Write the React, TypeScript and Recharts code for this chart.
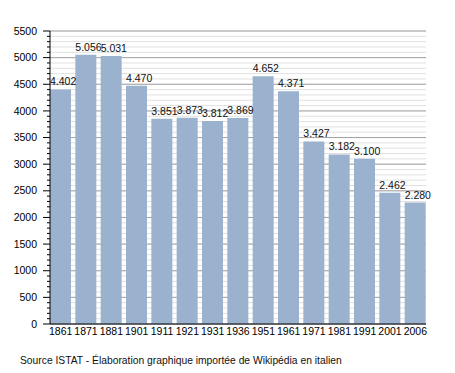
import { BarChart, Bar, XAxis, YAxis, CartesianGrid, LabelList } from "recharts";

const years = ["1861", "1871", "1881", "1901", "1911", "1921", "1931", "1936", "1951", "1961", "1971", "1981", "1991", "2001", "2006"];
const population = [4402, 5056, 5031, 4470, 3851, 3873, 3812, 3869, 4652, 4371, 3427, 3182, 3100, 2462, 2280];
const majorTicks = [0, 500, 1000, 1500, 2000, 2500, 3000, 3500, 4000, 4500, 5000, 5500];
// minor grid every 100
const minorTicks = Array.from({ length: 56 }, (_, i) => i * 100);

const data = years.map((year, i) => ({ year, value: population[i] }));

const FONT = "'Liberation Sans', Arial, sans-serif";

// italian thousands separator
const fmt = (v: number) => `${Math.floor(v / 1000)}.${String(v % 1000).padStart(3, "0")}`;

const YTick = (props: any) => {
  const { x, y, payload } = props;
  const major = payload.value % 500 === 0;
  return (
    <g>
      <line x1={x - (major ? 7 : 3)} x2={x} y1={y} y2={y} stroke="#000" strokeWidth={1} />
      {major && (
        <text x={x - 13} y={y} dy="0.35em" textAnchor="end" fontSize={10.5} fontFamily={FONT} fill="#000">
          {payload.value}
        </text>
      )}
    </g>
  );
};

const BarLabel = (props: any) => {
  const { x, y, value } = props;
  return (
    <text x={x} y={y - 4} textAnchor="start" fontSize={10.5} fontFamily={FONT} fill="#111">
      {fmt(value)}
    </text>
  );
};

export default function App() {
  return (
    <div style={{ position: "absolute", left: 0, top: 0, width: 455, height: 373, background: "#fff" }}>
      <BarChart
        width={455}
        height={373}
        data={data}
        margin={{ top: 31, right: 29, left: 0, bottom: 29 }}
        barCategoryGap={2}
      >
        <CartesianGrid vertical={false} horizontalValues={minorTicks} stroke="#e0e0e0" />
        <CartesianGrid vertical={false} horizontalValues={majorTicks} stroke="#a4a4a4" />
        <XAxis
          dataKey="year"
          height={20}
          padding={{ left: -2, right: -2 }}
          tickLine={false}
          tickSize={0}
          tickMargin={4}
          interval={0}
          axisLine={{ stroke: "#000" }}
          tick={{ fontSize: 10.5, fontFamily: FONT, fill: "#000" }}
        />
        <YAxis
          width={50}
          domain={[0, 5500]}
          ticks={minorTicks}
          interval={0}
          tickLine={false}
          tickSize={0}
          tickMargin={0}
          axisLine={{ stroke: "#000" }}
          tick={<YTick />}
        />
        <Bar dataKey="value" fill="#9bb2ce" isAnimationActive={false}>
          <LabelList dataKey="value" content={<BarLabel />} />
        </Bar>
      </BarChart>
      <div
        style={{
          position: "absolute",
          left: 20,
          top: 355,
          fontFamily: FONT,
          fontSize: 10.3,
          color: "#111",
          whiteSpace: "nowrap",
        }}
      >
        Source ISTAT - Élaboration graphique importée de Wikipédia en italien
      </div>
    </div>
  );
}
